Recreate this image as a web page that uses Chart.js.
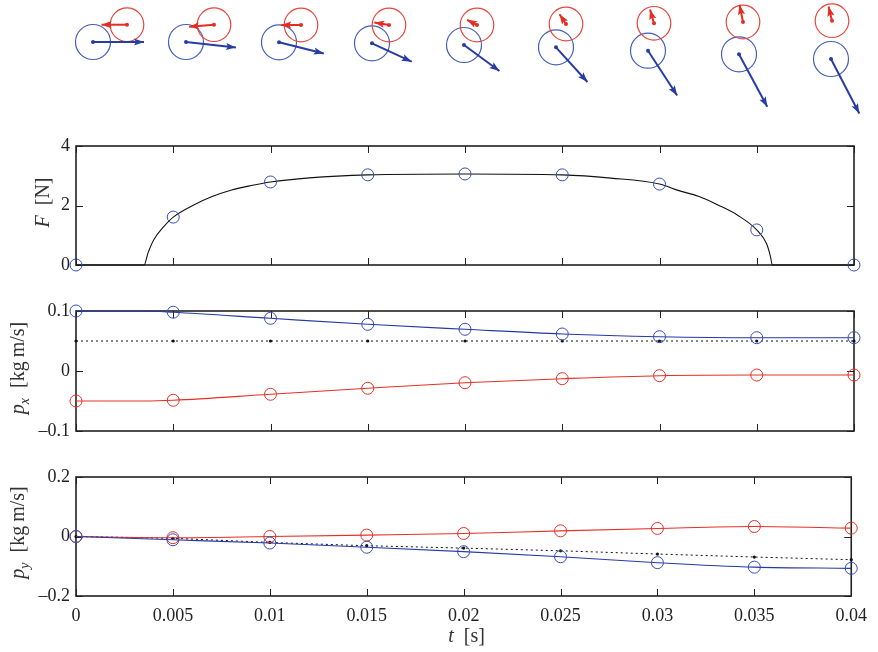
<!DOCTYPE html>
<html>
<head>
<meta charset="utf-8">
<script src="https://cdn.jsdelivr.net/npm/chart.js@4.4.1/dist/chart.umd.min.js"></script>
<style>
  body { margin: 0; background: #fff; width: 878px; height: 652px; position: relative; overflow: hidden; }
  canvas { position: absolute; left: 0; }
</style>
</head>
<body>
<canvas id="scene" width="878" height="125" style="top:0"></canvas>
<canvas id="forceChart" width="878" height="149" style="top:131px"></canvas>
<canvas id="pxChart" width="878" height="150" style="top:296px"></canvas>
<canvas id="pyChart" width="878" height="190" style="top:462px"></canvas>
<script>
// sample times (s) where the markers sit
const sampleT = [0, 0.005, 0.01, 0.015, 0.02, 0.025, 0.03, 0.035, 0.04];

// contact force F [N]
const forceAtSamples = [0, 1.61, 2.79, 3.03, 3.06, 3.03, 2.72, 1.18, 0];
const forceCurveT = [0, 0.0035, 0.0037, 0.004, 0.0045, 0.005, 0.006, 0.007, 0.008, 0.009, 0.01, 0.012,
                     0.015, 0.02, 0.025, 0.0275, 0.03, 0.031, 0.032, 0.033, 0.034, 0.035, 0.0355, 0.0357, 0.0358, 0.04];
const forceCurveF = [0, 0, 0.4, 0.85, 1.28, 1.61, 2.0, 2.3, 2.52, 2.67, 2.79, 2.93,
                     3.03, 3.06, 3.03, 2.92, 2.72, 2.5, 2.31, 2.02, 1.68, 1.18, 0.72, 0.3, 0, 0];

// momentum, x component [kg m/s]
const pxBlue = [0.1, 0.098, 0.0878, 0.0778, 0.0695, 0.0617, 0.0572, 0.0555, 0.0555];
const pxRed = [-0.05, -0.0488, -0.0388, -0.0288, -0.0195, -0.0128, -0.0078, -0.0067, -0.0067];
const pxTotal = [0.05, 0.05, 0.05, 0.05, 0.05, 0.05, 0.05, 0.05, 0.05];
const pxCurveT = [0, 0.0035, 0.005, 0.01, 0.015, 0.02, 0.025, 0.03, 0.035, 0.04];
const pxBlueCurve = [0.1, 0.1, 0.098, 0.0878, 0.0778, 0.0695, 0.0617, 0.0572, 0.0555, 0.0555];
const pxRedCurve = [-0.05, -0.05, -0.0488, -0.0388, -0.0288, -0.0195, -0.0128, -0.0078, -0.0067, -0.0067];

// momentum, y component [kg m/s]
const pyBlue = [0, -0.011, -0.022, -0.036, -0.051, -0.068, -0.088, -0.103, -0.107];
const pyRed = [0, -0.004, 0, 0.0047, 0.0101, 0.019, 0.027, 0.0336, 0.028];
const pyTotal = [0, -0.006, -0.02, -0.031, -0.039, -0.048, -0.059, -0.069, -0.078];

// snapshot positions of the two balls (sketch units)
const frameBlueX = [93, 186, 279, 372, 464, 556, 648, 739, 831];
const frameBlueY = [83, 83, 82.7, 81.7, 80, 77.7, 74.3, 70.7, 66];
const frameRedX = [127, 214, 301, 389, 477, 566, 654, 743, 832];
const frameRedY = [100.3, 100.3, 100, 100, 100, 101, 101.7, 103, 104.3];

const BLUE = 'rgb(52,78,188)';
const BLUE_LINE = 'rgb(38,58,165)';
const RED = 'rgb(230,48,38)';
const INK = '#222';
const SERIF = '"Liberation Serif", "DejaVu Serif", serif';
const ARROW_SCALE = 510;   // sketch units per kg m/s
const GAP = '\u2002';      // wide space used in the axis labels

const pts = (xs, ys) => xs.map((x, i) => ({ x: x, y: ys[i] }));
const fmt = v => String(parseFloat(v.toFixed(4))).replace('-', '\u2013');

// box round the plot area with inward ticks on all four sides
const boxPlugin = {
  id: 'matlabBox',
  beforeDatasetsDraw(chart) {
    const { ctx, chartArea: a, scales } = chart;
    const len = 7;
    ctx.save();
    ctx.strokeStyle = INK;
    ctx.lineWidth = 1;
    ctx.beginPath();
    scales.x.ticks.forEach((t, i) => {
      const px = Math.round(scales.x.getPixelForTick(i)) + 0.5;
      ctx.moveTo(px, a.top); ctx.lineTo(px, a.top + len);
      ctx.moveTo(px, a.bottom); ctx.lineTo(px, a.bottom - len);
    });
    scales.y.ticks.forEach((t, i) => {
      const py = Math.round(scales.y.getPixelForTick(i)) + 0.5;
      ctx.moveTo(a.left, py); ctx.lineTo(a.left + len, py);
      ctx.moveTo(a.right, py); ctx.lineTo(a.right - len, py);
    });
    ctx.stroke();
    ctx.lineWidth = 1.6;
    ctx.strokeRect(a.left, a.top, a.right - a.left, a.bottom - a.top);
    ctx.restore();
  }
};

function drawParts(ctx, parts) {
  const size = 20;
  const fontFor = p => (p.italic ? 'italic ' : '') + (p.sub ? size * 0.7 : size) + 'px ' + SERIF;
  let total = 0;
  parts.forEach(p => { ctx.font = fontFor(p); total += ctx.measureText(p.text).width; });
  let x = -total / 2;
  ctx.fillStyle = '#333';
  ctx.textAlign = 'left';
  ctx.textBaseline = 'middle';
  parts.forEach(p => {
    ctx.font = fontFor(p);
    ctx.fillText(p.text, x, p.sub ? size * 0.3 : 0);
    x += ctx.measureText(p.text).width;
  });
}

// axis labels with mixed italic / upright parts
const labelPlugin = {
  id: 'axisLabels',
  afterDraw(chart, args, opts) {
    const { ctx, chartArea: a } = chart;
    if (opts.y) {
      ctx.save();
      ctx.translate(opts.y.x, (a.top + a.bottom) / 2 + (opts.y.dy || 0));
      ctx.rotate(-Math.PI / 2);
      drawParts(ctx, opts.y.parts);
      ctx.restore();
    }
    if (opts.x) {
      ctx.save();
      ctx.translate((a.left + a.right) / 2 + (opts.x.dx || 0), opts.x.y);
      drawParts(ctx, opts.x.parts);
      ctx.restore();
    }
  }
};

function panel(id, cfg) {
  return new Chart(document.getElementById(id), {
    type: 'scatter',
    data: { datasets: cfg.datasets },
    options: {
      responsive: false,
      animation: false,
      layout: { padding: cfg.padding, autoPadding: false },
      plugins: {
        legend: { display: false },
        tooltip: { enabled: false },
        axisLabels: cfg.labels
      },
      scales: {
        x: {
          type: 'linear', min: 0, max: 0.04,
          grid: { display: false, drawTicks: false },
          border: { display: false },
          ticks: {
            display: cfg.showX, stepSize: 0.005, padding: 11, color: INK,
            font: { family: SERIF, size: 18, lineHeight: 1 },
            callback: fmt
          },
          afterFit: s => { s.height = cfg.showX ? 56 : 0; }
        },
        y: {
          type: 'linear', min: cfg.yMin, max: cfg.yMax,
          grid: { display: false, drawTicks: false },
          border: { display: false },
          ticks: {
            stepSize: cfg.yStep, padding: 6, color: INK,
            font: { family: SERIF, size: 18, lineHeight: 1 },
            callback: fmt
          },
          afterFit: s => { s.width = 76; }
        }
      }
    },
    plugins: [boxPlugin, labelPlugin]
  });
}

const markers = (data, color) => ({
  data: data, showLine: false, pointRadius: 6, pointBorderWidth: 1,
  pointBorderColor: color, pointBackgroundColor: 'rgba(0,0,0,0)', clip: false
});
const curve = (data, color) => ({
  data: data, showLine: true, pointRadius: 0, borderWidth: 1.1, borderColor: color,
  cubicInterpolationMode: 'monotone', clip: false
});
const dotted = data => ({
  data: data, showLine: true, borderWidth: 1, borderColor: '#111', borderDash: [2, 3],
  pointRadius: 1.6, pointBackgroundColor: '#111', pointBorderWidth: 0, clip: false
});

panel('forceChart', {
  padding: { top: 15, right: 24, bottom: 15, left: 0 },
  showX: false, yMin: 0, yMax: 4, yStep: 2,
  labels: { y: { x: 44, dy: -3, parts: [{ text: 'F', italic: true }, { text: GAP + '[N]' }] } },
  datasets: [
    markers(pts(sampleT, forceAtSamples), BLUE),
    curve(pts(forceCurveT, forceCurveF), '#111')
  ]
});

panel('pxChart', {
  padding: { top: 15, right: 24, bottom: 15, left: 0 },
  showX: false, yMin: -0.1, yMax: 0.1, yStep: 0.1,
  labels: { y: { x: 19, dy: -3, parts: [{ text: 'p', italic: true }, { text: 'x', italic: true, sub: true }, { text: GAP + '[kg\u2009m/s]' }] } },
  datasets: [
    markers(pts(sampleT, pxBlue), BLUE),
    markers(pts(sampleT, pxRed), RED),
    curve(pts(pxCurveT, pxBlueCurve), BLUE_LINE),
    curve(pts(pxCurveT, pxRedCurve), RED),
    dotted(pts(sampleT, pxTotal))
  ]
});

panel('pyChart', {
  padding: { top: 15, right: 24, bottom: 0, left: 0 },
  showX: true, yMin: -0.2, yMax: 0.2, yStep: 0.2,
  labels: {
    y: { x: 19, dy: -4, parts: [{ text: 'p', italic: true }, { text: 'y', italic: true, sub: true }, { text: GAP + '[kg\u2009m/s]' }] },
    x: { dx: 3, y: 175, parts: [{ text: 't', italic: true }, { text: GAP + '[s]' }] }
  },
  datasets: [
    markers(pts(sampleT, pyBlue), BLUE),
    markers(pts(sampleT, pyRed), RED),
    curve(pts(sampleT, pyBlue), BLUE_LINE),
    curve(pts(sampleT, pyRed), RED),
    dotted(pts(sampleT, pyTotal))
  ]
});

// collision sketch: balls with their momentum arrows
const arrowHeads = {
  id: 'arrowHeads',
  afterDatasetsDraw(chart) {
    const ctx = chart.ctx;
    chart.data.datasets.forEach((ds, i) => {
      if (!ds.arrowHead) return;
      const [a, b] = chart.getDatasetMeta(i).data;
      const ang = Math.atan2(b.y - a.y, b.x - a.x);
      const len = 10, half = 3.6;
      ctx.save();
      ctx.fillStyle = ds.borderColor;
      ctx.translate(b.x, b.y);
      ctx.rotate(ang);
      ctx.beginPath();
      ctx.moveTo(0, 0);
      ctx.lineTo(-len, -half);
      ctx.lineTo(-len * 0.8, 0);
      ctx.lineTo(-len, half);
      ctx.closePath();
      ctx.fill();
      ctx.restore();
    });
  }
};

const arrow = (x, y, p, q, color) => ({
  type: 'line', arrowHead: true,
  data: [{ x: x, y: y }, { x: x + ARROW_SCALE * p, y: y + ARROW_SCALE * q }],
  borderColor: color, borderWidth: 2, pointRadius: [2, 0],
  pointBackgroundColor: color, pointBorderWidth: 0, clip: false
});

const sceneSets = [];
frameBlueX.forEach((x, i) => {
  sceneSets.push(arrow(x, frameBlueY[i], pxBlue[i], pyBlue[i], 'rgb(40,60,165)'));
  sceneSets.push(arrow(frameRedX[i], frameRedY[i], pxRed[i], pyRed[i], 'rgb(228,45,35)'));
});
sceneSets.push({
  data: pts(frameRedX, frameRedY), showLine: false, pointRadius: 16.8, pointBorderWidth: 1.2,
  pointBorderColor: 'rgb(232,70,60)', pointBackgroundColor: 'rgba(0,0,0,0)', clip: false
});
sceneSets.push({
  data: pts(frameBlueX, frameBlueY), showLine: false, pointRadius: 17.5, pointBorderWidth: 1.2,
  pointBorderColor: 'rgb(70,95,185)', pointBackgroundColor: 'rgba(0,0,0,0)', clip: false
});

new Chart(document.getElementById('scene'), {
  type: 'scatter',
  data: { datasets: sceneSets },
  options: {
    responsive: false,
    animation: false,
    layout: { padding: 0, autoPadding: false },
    plugins: { legend: { display: false }, tooltip: { enabled: false } },
    scales: {
      x: { type: 'linear', min: 0, max: 878, display: false },
      y: { type: 'linear', min: 0, max: 125, display: false }
    }
  },
  plugins: [arrowHeads]
});
</script>
</body>
</html>
